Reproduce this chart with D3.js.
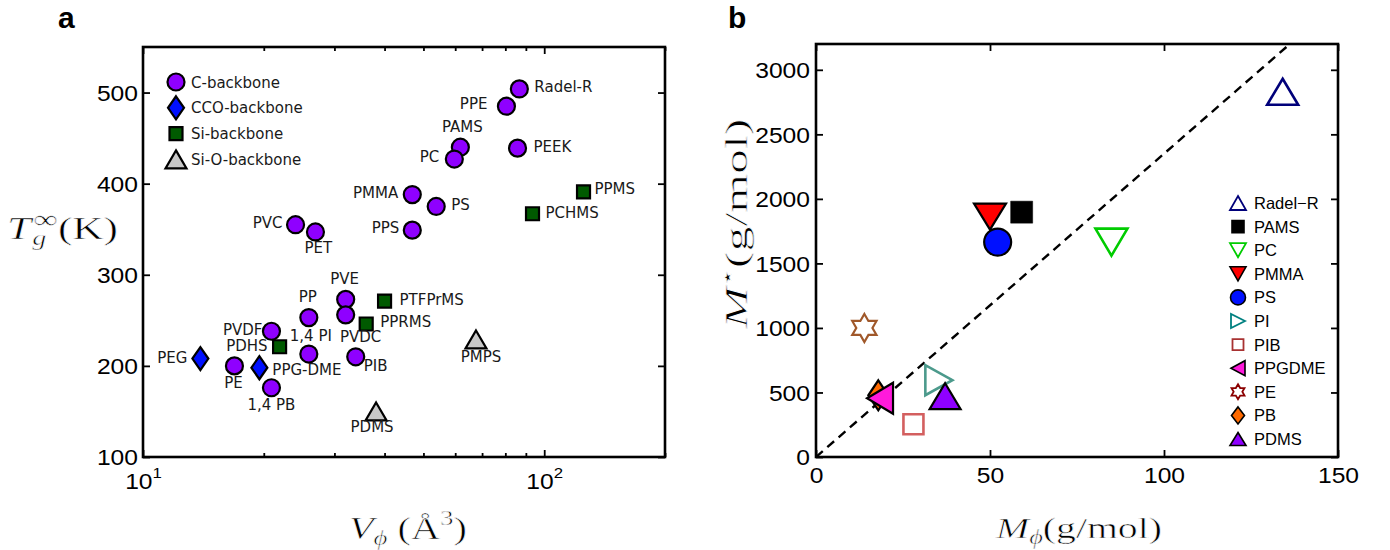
<!DOCTYPE html>
<html>
<head>
<meta charset="utf-8">
<script src="https://cdn.jsdelivr.net/npm/d3@7"></script>
<style>
  body { margin: 0; background: #fff; }
  svg { display: block; }
</style>
</head>
<body>
<svg id="fig" width="1390" height="550"></svg>
<script>
// ---------- Panel a: glass-transition temperature vs. monomer volume ----------
const polyNames = ["PEG", "PE", "PPG-DME", "1,4 PB", "PVDF", "PDHS", "PP", "1,4 PI",
  "PVE", "PVDC", "PIB", "PPRMS", "PTFPrMS", "PDMS", "PMPS", "PVC", "PET", "PMMA",
  "PS", "PPS", "PAMS", "PC", "PPE", "Radel-R", "PEEK", "PPMS", "PCHMS"];
const polyV = [13.9, 16.9, 19.5, 20.9, 20.9, 21.9, 25.9, 25.9,
  32.0, 32.0, 33.9, 36.0, 40.0, 38.1, 67.6, 24.0, 26.9, 46.9,
  53.8, 46.9, 61.8, 59.7, 80.5, 86.7, 85.8, 125.3, 93.5];
const polyTg = [208, 200, 198, 176, 238, 221, 253, 213,
  273, 256, 210, 246, 271, 150, 229, 355, 347, 388,
  375, 349, 440, 427, 485, 504, 439, 391, 367];
const polyBackbone = ["CCO", "C", "CCO", "C", "C", "Si", "C", "C",
  "C", "C", "C", "Si", "Si", "SiO", "SiO", "C", "C", "C",
  "C", "C", "C", "C", "C", "C", "C", "Si", "Si"];
const backboneKeys = ["C", "CCO", "Si", "SiO"];
const backboneLabels = ["C-backbone", "CCO-backbone", "Si-backbone", "Si-O-backbone"];
const tgTicks = [100, 200, 300, 400, 500];
const vMajorTicks = [10, 100];
const vMinorTicks = [20, 30, 40, 50, 60, 70, 80, 90, 200];

// ---------- Panel b: entanglement-related mass vs. monomer mass ----------
const massNames = ["Radel\u2212R", "PAMS", "PC", "PMMA", "PS", "PI", "PIB", "PPGDME", "PE", "PB", "PDMS"];
const massMphi = [134.1, 59.1, 84.9, 50.0, 52.2, 35.3, 28.0, 18.4, 13.9, 17.9, 37.1];
const massMstar = [2830, 1897, 1665, 1862, 1665, 595, 254, 455, 1000, 478, 471];
const mphiTicks = [0, 50, 100, 150];
const mstarTicks = [0, 500, 1000, 1500, 2000, 2500, 3000];
const guideSlope = 23.5;   // dashed guide: M* = 23.5 Mphi

// ---------- styles ----------
const PURPLE = "#8F00FF";
const backboneStyle = {
  C:   { shape: "circle",  w: 17, h: 17, fill: PURPLE,    stroke: "#000", sw: 2.2 },
  CCO: { shape: "diamond", w: 16, h: 23, fill: "#0010FF", stroke: "#000", sw: 2.2 },
  Si:  { shape: "square",  w: 13, h: 13, fill: "#005A00", stroke: "#000", sw: 2.2 },
  SiO: { shape: "triUp",   w: 21, h: 18, fill: "#C8C8C8", stroke: "#000", sw: 2.2 }
};
// label placement around each point: [anchor, dx, dy]
const labelPlace = {
  "PEG": ["end", -13, 4], "PE": ["middle", -1, 22], "PPG-DME": ["start", 13, 7],
  "1,4 PB": ["middle", 0, 22], "PVDF": ["end", -9, 4], "PDHS": ["end", -12, 4],
  "PP": ["middle", -1, -16], "1,4 PI": ["middle", 2, -13], "PVE": ["middle", -1, -15],
  "PVDC": ["middle", 15, 27], "PIB": ["start", 8, 14], "PPRMS": ["start", 14, 3],
  "PTFPrMS": ["start", 15, 4], "PDMS": ["middle", -4, 21], "PMPS": ["middle", 5, 23],
  "PVC": ["end", -13, 3], "PET": ["middle", 3, 21], "PMMA": ["end", -14, 3],
  "PS": ["start", 15, 4], "PPS": ["end", -13, 3], "PC": ["end", -15, 3],
  "PAMS": ["middle", 2, -15], "PPE": ["end", -19, 3], "Radel-R": ["start", 15, 3],
  "PEEK": ["start", 16, 4], "PPMS": ["start", 11, 2], "PCHMS": ["start", 13, 4]
};

const massStyle = [
  { shape: "triUp",    w: 31, h: 26, fill: "none",    stroke: "#00007A", sw: 2.6, lw: 16, lh: 14, lfill: "none", lstroke: "#00007A" },
  { shape: "square",   w: 22, h: 22, fill: "#000",    stroke: "#000",    sw: 0.5, lw: 12, lh: 12, lfill: "#000", lstroke: "#000" },
  { shape: "triDown",  w: 32, h: 27, fill: "none",    stroke: "#00CC00", sw: 2.6, lw: 16, lh: 14, lfill: "none", lstroke: "#00CC00" },
  { shape: "triDown",  w: 32, h: 26, fill: "#FF0000", stroke: "#000",    sw: 2.2, lw: 16, lh: 14, lfill: "#FF0000", lstroke: "#000" },
  { shape: "circle",   w: 27, h: 27, fill: "#0010FF", stroke: "#000",    sw: 2.2, lw: 15, lh: 15, lfill: "#0010FF", lstroke: "#000" },
  { shape: "triRight", w: 27, h: 30, fill: "none",    stroke: "#4C9A8C", sw: 2.6, lw: 14, lh: 14, lfill: "none", lstroke: "#008080" },
  { shape: "square",   w: 20, h: 20, fill: "none",    stroke: "#D35F5F", sw: 2.6, lw: 11, lh: 11, lfill: "none", lstroke: "#A83232" },
  { shape: "triLeft",  w: 26, h: 31, fill: "#FF1ADB", stroke: "#000",    sw: 2.2, lw: 14, lh: 15, lfill: "#FF1ADB", lstroke: "#000" },
  { shape: "star6",    w: 28, h: 28, fill: "none",    stroke: "#A0582A", sw: 2.2, lw: 15, lh: 15, lfill: "none", lstroke: "#8B0000" },
  { shape: "diamond",  w: 20, h: 30, fill: "#FF6A00", stroke: "#000",    sw: 2.2, lw: 13, lh: 17, lfill: "#FF6A00", lstroke: "#000" },
  { shape: "triUp",    w: 31, h: 26, fill: PURPLE,    stroke: "#000",    sw: 2.2, lw: 16, lh: 13, lfill: PURPLE, lstroke: "#000" }
];
// PB sits beneath PPGDME where they overlap
const massDrawOrder = [0, 1, 2, 3, 4, 5, 6, 9, 7, 8, 10];

function shapePath(shape, w, h) {
  const a = w / 2, b = h / 2;
  switch (shape) {
    case "circle":  return `M${-a},0A${a},${a} 0 1,0 ${a},0A${a},${a} 0 1,0 ${-a},0Z`;
    case "square":  return `M${-a},${-b}H${a}V${b}H${-a}Z`;
    case "diamond": return `M0,${-b}L${a},0L0,${b}L${-a},0Z`;
    case "triUp":   return `M0,${-b}L${a},${b}L${-a},${b}Z`;
    case "triDown": return `M0,${b}L${a},${-b}L${-a},${-b}Z`;
    case "triLeft": return `M${-a},0L${a},${-b}L${a},${b}Z`;
    case "triRight":return `M${a},0L${-a},${-b}L${-a},${b}Z`;
    case "star6": {
      const pts = [];
      for (let k = 0; k < 12; k++) {
        const r = k % 2 === 0 ? a : a / Math.sqrt(3);
        const ang = -Math.PI / 2 + k * Math.PI / 6;
        pts.push([r * Math.cos(ang), r * Math.sin(ang)]);
      }
      return "M" + pts.map(p => p[0].toFixed(2) + "," + p[1].toFixed(2)).join("L") + "Z";
    }
  }
}

const svg = d3.select("#fig");
const SANS = "'Liberation Sans', Arial, Helvetica, sans-serif";
const LABEL_SANS = "'DejaVu Sans', Verdana, sans-serif";
const SERIF = "'Liberation Serif', 'DejaVu Serif', 'Times New Roman', serif";
const TICK_STRETCH = 1.12;

// map a group's bounding box onto a target box
function fitBox(g, x0, x1, y0, y1) {
  const bb = g.node().getBBox();
  const sx = (x1 - x0) / bb.width, sy = (y1 - y0) / bb.height;
  g.attr("transform", `translate(${x0},${y0}) scale(${sx},${sy}) translate(${-bb.x},${-bb.y})`);
}
function fitBoxRotated(g, x0, x1, y0, y1) {
  const bb = g.node().getBBox();
  const sx = (y1 - y0) / bb.width, sy = (x1 - x0) / bb.height;
  const cx = (x0 + x1) / 2, cy = (y0 + y1) / 2;
  g.attr("transform", `translate(${cx},${cy}) rotate(-90) scale(${sx},${sy}) translate(${-(bb.x + bb.width / 2)},${-(bb.y + bb.height / 2)})`);
}
// math-style title text: light serif (a thin white outline trims the strokes)
function mathText(g, size) {
  return g.append("text").attr("font-family", SERIF).attr("font-size", size).attr("fill", "#000")
    .attr("stroke", "#fff").attr("stroke-width", 0.7).attr("stroke-linejoin", "round");
}

function styleTickText(axisG, orient, gap) {
  axisG.select(".domain").remove();
  axisG.selectAll(".tick line").attr("stroke", "#000").attr("stroke-width", 1.8);
  const t = axisG.selectAll(".tick text")
    .attr("font-family", SANS).attr("font-size", 22).attr("fill", "#000");
  if (orient === "left") {
    t.attr("x", 0).attr("dy", "0.36em").attr("transform", `translate(${-gap},0) scale(${TICK_STRETCH},1)`);
  } else if (orient === "bottom") {
    t.attr("y", 0).attr("dy", "0.72em").attr("transform", `translate(0,${gap}) scale(${TICK_STRETCH},1)`);
  }
  axisG.attr("font-family", null).attr("font-size", null);
}
const plainInt = d3.format("d");

// ================= Panel a =================
const A = { left: 143, right: 665, top: 47, bottom: 457 };
const xA = d3.scaleLog().domain([10, 200]).range([A.left, A.right]);
const yA = d3.scaleLinear().domain([100, 550]).range([A.bottom, A.top]);

const gA = svg.append("g");
// left / right ticks
styleTickText(gA.append("g").attr("transform", `translate(${A.left},0)`)
  .call(d3.axisLeft(yA).tickValues(tgTicks).tickFormat(plainInt).tickSize(-7).tickPadding(0)), "left", 5);
styleTickText(gA.append("g").attr("transform", `translate(${A.right},0)`)
  .call(d3.axisRight(yA).tickValues(tgTicks).tickSize(-7).tickFormat("")), "right", 0);
// bottom / top ticks (log scale)
const axA_b = gA.append("g").attr("transform", `translate(0,${A.bottom})`)
  .call(d3.axisBottom(xA).tickValues(vMajorTicks).tickSize(-7).tickFormat(""));
styleTickText(axA_b, "none", 0);
axA_b.selectAll(".tick").append("text")
  .attr("font-family", SANS).attr("font-size", 22).attr("fill", "#000")
  .attr("text-anchor", "middle").attr("dy", "0.72em")
  .attr("transform", `translate(0,16) scale(${TICK_STRETCH},1)`)
  .each(function (d) {
    const t = d3.select(this);
    t.append("tspan").text("10");
    t.append("tspan").attr("font-size", 15).attr("dy", "-0.7em").text(Math.round(Math.log10(d)));
  });
styleTickText(gA.append("g").attr("transform", `translate(0,${A.bottom})`)
  .call(d3.axisBottom(xA).tickValues(vMinorTicks).tickSize(-4).tickFormat("")), "none", 0);
styleTickText(gA.append("g").attr("transform", `translate(0,${A.top})`)
  .call(d3.axisTop(xA).tickValues(vMajorTicks).tickSize(-7).tickFormat("")), "none", 0);
styleTickText(gA.append("g").attr("transform", `translate(0,${A.top})`)
  .call(d3.axisTop(xA).tickValues(vMinorTicks).tickSize(-4).tickFormat("")), "none", 0);

// points
const polyIdx = d3.range(polyNames.length);
gA.append("g").selectAll("path").data(polyIdx).join("path")
  .attr("d", i => { const s = backboneStyle[polyBackbone[i]]; return shapePath(s.shape, s.w, s.h); })
  .attr("transform", i => `translate(${xA(polyV[i])},${yA(polyTg[i])})`)
  .attr("fill", i => backboneStyle[polyBackbone[i]].fill)
  .attr("stroke", i => backboneStyle[polyBackbone[i]].stroke)
  .attr("stroke-width", i => backboneStyle[polyBackbone[i]].sw)
  .attr("stroke-linejoin", "miter");

// point labels
gA.append("g").selectAll("text").data(polyIdx).join("text")
  .attr("x", i => xA(polyV[i]) + labelPlace[polyNames[i]][1])
  .attr("y", i => yA(polyTg[i]) + labelPlace[polyNames[i]][2])
  .attr("text-anchor", i => labelPlace[polyNames[i]][0])
  .attr("font-family", LABEL_SANS).attr("font-size", 15).attr("fill", "#1a1a1a")
  .text(i => polyNames[i]);

// legend
const legA = gA.append("g");
backboneKeys.forEach((k, j) => {
  const s = backboneStyle[k];
  const cy = 82 + j * 25.8;
  legA.append("path").attr("d", shapePath(s.shape, s.w, s.h))
    .attr("transform", `translate(176,${cy})`)
    .attr("fill", s.fill).attr("stroke", s.stroke).attr("stroke-width", s.sw);
  legA.append("text").attr("x", 191).attr("y", cy + 5.5)
    .attr("font-family", LABEL_SANS).attr("font-size", 15).attr("fill", "#1a1a1a")
    .text(backboneLabels[j]);
});

// frame
gA.append("rect").attr("x", A.left).attr("y", A.top)
  .attr("width", A.right - A.left).attr("height", A.bottom - A.top)
  .attr("fill", "none").attr("stroke", "#000").attr("stroke-width", 2.6);

// axis titles
const aYlab = gA.append("g");
{
  const t = mathText(aYlab, 40);
  t.append("tspan").attr("font-style", "italic").text("T");
  t.append("tspan").attr("font-style", "italic").attr("font-size", 26).attr("dx", 1).attr("dy", 8).text("g");
  t.append("tspan").attr("font-size", 32).attr("dx", -12).attr("dy", -21).text("\u221E");
  t.append("tspan").attr("dy", 13).text("(K)");
}
fitBox(aYlab, 7, 118, 205, 250);

const aXlab = gA.append("g");
{
  const t = mathText(aXlab, 36);
  t.append("tspan").attr("font-style", "italic").text("V");
  t.append("tspan").attr("font-style", "italic").attr("font-size", 24).attr("dy", 7).text("\u03D5");
  t.append("tspan").attr("dy", -7).text(" (\u00C5");
  t.append("tspan").attr("font-size", 24).attr("dy", -15).text("3");
  t.append("tspan").attr("dy", 15).text(")");
}
fitBox(aXlab, 349, 467, 507, 549);

svg.append("text").attr("x", 58).attr("y", 28)
  .attr("font-family", SANS).attr("font-weight", "bold").attr("font-size", 30).text("a");

// ================= Panel b =================
const B = { left: 816, right: 1338, top: 44, bottom: 457 };
const xB = d3.scaleLinear().domain([0, 150]).range([B.left, B.right]);
const yB = d3.scaleLinear().domain([0, 3200]).range([B.bottom, B.top]);
const gB = svg.append("g");

styleTickText(gB.append("g").attr("transform", `translate(${B.left},0)`)
  .call(d3.axisLeft(yB).tickValues(mstarTicks).tickFormat(plainInt).tickSize(-7).tickPadding(0)), "left", 6);
styleTickText(gB.append("g").attr("transform", `translate(${B.right},0)`)
  .call(d3.axisRight(yB).tickValues(mstarTicks).tickSize(-7).tickFormat("")), "right", 0);
styleTickText(gB.append("g").attr("transform", `translate(0,${B.bottom})`)
  .call(d3.axisBottom(xB).tickValues(mphiTicks).tickFormat(plainInt).tickSize(-7).tickPadding(0)), "bottom", 10);
styleTickText(gB.append("g").attr("transform", `translate(0,${B.top})`)
  .call(d3.axisTop(xB).tickValues(mphiTicks).tickSize(-7).tickFormat("")), "none", 0);

// dashed guide line, clipped to the plot area
svg.append("clipPath").attr("id", "clipB").append("rect")
  .attr("x", B.left).attr("y", B.top).attr("width", B.right - B.left).attr("height", B.bottom - B.top);
gB.append("path")
  .datum([0, 150])
  .attr("clip-path", "url(#clipB)")
  .attr("d", d3.line().x(d => xB(d)).y(d => yB(d * guideSlope)))
  .attr("fill", "none").attr("stroke", "#000").attr("stroke-width", 2.4)
  .attr("stroke-dasharray", "9,6");

// markers
gB.append("g").selectAll("path").data(massDrawOrder).join("path")
  .attr("d", i => shapePath(massStyle[i].shape, massStyle[i].w, massStyle[i].h))
  .attr("transform", i => `translate(${xB(massMphi[i])},${yB(massMstar[i])})`)
  .attr("fill", i => massStyle[i].fill)
  .attr("stroke", i => massStyle[i].stroke)
  .attr("stroke-width", i => massStyle[i].sw);

// legend
const legB = gB.append("g");
massNames.forEach((name, i) => {
  const s = massStyle[i];
  const cy = 203 + i * 23.6;
  legB.append("path").attr("d", shapePath(s.shape, s.lw, s.lh))
    .attr("transform", `translate(1238,${cy})`)
    .attr("fill", s.lfill).attr("stroke", s.lstroke)
    .attr("stroke-width", s.fill === "none" ? 1.8 : 1.6);
  legB.append("text").attr("x", 1254).attr("y", cy + 6)
    .attr("font-family", SANS).attr("font-size", 16.5).attr("fill", "#000")
    .text(name);
});

// frame
gB.append("rect").attr("x", B.left).attr("y", B.top)
  .attr("width", B.right - B.left).attr("height", B.bottom - B.top)
  .attr("fill", "none").attr("stroke", "#000").attr("stroke-width", 2.6);

// axis titles
const bXlab = gB.append("g");
{
  const t = mathText(bXlab, 36);
  t.append("tspan").attr("font-style", "italic").text("M");
  t.append("tspan").attr("font-style", "italic").attr("font-size", 24).attr("dy", 7).text("\u03D5");
  t.append("tspan").attr("dy", -7).text("(g/mol)");
}
fitBox(bXlab, 995, 1162, 511, 548);

const bYlab = gB.append("g");
{
  const t = mathText(bYlab, 36);
  t.append("tspan").attr("font-style", "italic").text("M");
  t.append("tspan").attr("font-size", 22).attr("dy", -14).text("\u22C6");
  t.append("tspan").attr("dy", 14).text("(g/mol)");
}
fitBoxRotated(bYlab, 716, 754, 118, 330);

svg.append("text").attr("x", 728).attr("y", 28)
  .attr("font-family", SANS).attr("font-weight", "bold").attr("font-size", 30).text("b");
</script>
</body>
</html>
